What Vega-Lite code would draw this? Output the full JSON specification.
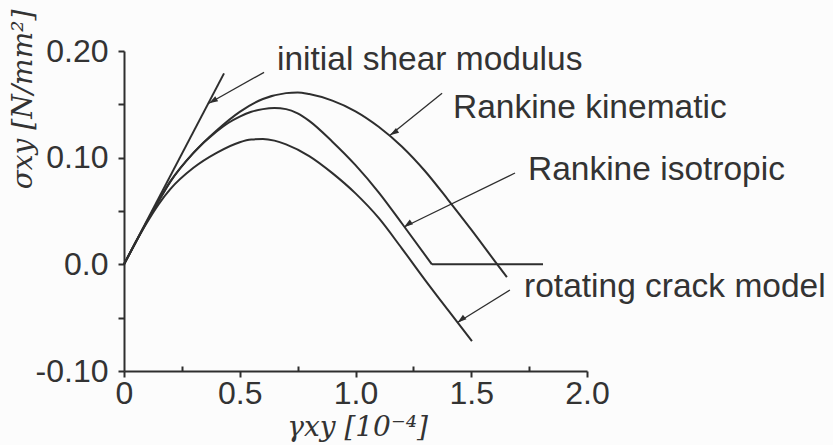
{
  "$schema": "https://vega.github.io/schema/vega-lite/v6.json",
  "width": 463,
  "height": 320,
  "autosize": "none",
  "padding": {"left": 124, "top": 51, "right": 246, "bottom": 74},
  "background": "#fcfcfc",
  "config": {
    "view": {"stroke": null},
    "axis": {
      "grid": false,
      "domainColor": "#2e2e2e",
      "domainWidth": 2,
      "tickColor": "#2e2e2e",
      "tickWidth": 2,
      "tickSize": 6,
      "labelFont": "Liberation Sans",
      "labelFontSize": 32,
      "labelColor": "#333333",
      "titleFont": "DejaVu Serif",
      "titleFontStyle": "italic",
      "titleFontWeight": "normal",
      "titleFontSize": 28,
      "titleColor": "#333333"
    }
  },
  "datasets": {
    "curves": [
      {"curve": "initial shear modulus", "part": "a", "x": 0, "y": 0},
      {"curve": "initial shear modulus", "part": "a", "x": 0.432, "y": 0.179},
      {"curve": "Rankine kinematic", "part": "a", "x": 0, "y": 0},
      {"curve": "Rankine kinematic", "part": "a", "x": 0.05, "y": 0.0205},
      {"curve": "Rankine kinematic", "part": "a", "x": 0.1, "y": 0.0405},
      {"curve": "Rankine kinematic", "part": "a", "x": 0.15, "y": 0.0595},
      {"curve": "Rankine kinematic", "part": "a", "x": 0.2, "y": 0.0775},
      {"curve": "Rankine kinematic", "part": "a", "x": 0.3, "y": 0.1045},
      {"curve": "Rankine kinematic", "part": "a", "x": 0.4, "y": 0.1255},
      {"curve": "Rankine kinematic", "part": "a", "x": 0.5, "y": 0.143},
      {"curve": "Rankine kinematic", "part": "a", "x": 0.6, "y": 0.155},
      {"curve": "Rankine kinematic", "part": "a", "x": 0.7, "y": 0.1605},
      {"curve": "Rankine kinematic", "part": "a", "x": 0.75, "y": 0.1612},
      {"curve": "Rankine kinematic", "part": "a", "x": 0.8, "y": 0.1597},
      {"curve": "Rankine kinematic", "part": "a", "x": 0.9, "y": 0.1535},
      {"curve": "Rankine kinematic", "part": "a", "x": 1.0, "y": 0.1435},
      {"curve": "Rankine kinematic", "part": "a", "x": 1.1, "y": 0.129},
      {"curve": "Rankine kinematic", "part": "a", "x": 1.2, "y": 0.1105},
      {"curve": "Rankine kinematic", "part": "a", "x": 1.3, "y": 0.0875},
      {"curve": "Rankine kinematic", "part": "a", "x": 1.4, "y": 0.0605},
      {"curve": "Rankine kinematic", "part": "a", "x": 1.5, "y": 0.0325},
      {"curve": "Rankine kinematic", "part": "a", "x": 1.6, "y": 0.0035},
      {"curve": "Rankine kinematic", "part": "a", "x": 1.654, "y": -0.012},
      {"curve": "Rankine isotropic", "part": "a", "x": 0, "y": 0},
      {"curve": "Rankine isotropic", "part": "a", "x": 0.05, "y": 0.0205},
      {"curve": "Rankine isotropic", "part": "a", "x": 0.1, "y": 0.0405},
      {"curve": "Rankine isotropic", "part": "a", "x": 0.15, "y": 0.0595},
      {"curve": "Rankine isotropic", "part": "a", "x": 0.2, "y": 0.0775},
      {"curve": "Rankine isotropic", "part": "a", "x": 0.3, "y": 0.1045},
      {"curve": "Rankine isotropic", "part": "a", "x": 0.4, "y": 0.1245},
      {"curve": "Rankine isotropic", "part": "a", "x": 0.45, "y": 0.1325},
      {"curve": "Rankine isotropic", "part": "a", "x": 0.5, "y": 0.1385},
      {"curve": "Rankine isotropic", "part": "a", "x": 0.55, "y": 0.143},
      {"curve": "Rankine isotropic", "part": "a", "x": 0.6, "y": 0.1455},
      {"curve": "Rankine isotropic", "part": "a", "x": 0.65, "y": 0.1465},
      {"curve": "Rankine isotropic", "part": "a", "x": 0.7, "y": 0.1455},
      {"curve": "Rankine isotropic", "part": "a", "x": 0.75, "y": 0.1415},
      {"curve": "Rankine isotropic", "part": "a", "x": 0.8, "y": 0.1345},
      {"curve": "Rankine isotropic", "part": "a", "x": 0.9, "y": 0.115},
      {"curve": "Rankine isotropic", "part": "a", "x": 1.0, "y": 0.093},
      {"curve": "Rankine isotropic", "part": "a", "x": 1.1, "y": 0.0675},
      {"curve": "Rankine isotropic", "part": "a", "x": 1.2, "y": 0.0385},
      {"curve": "Rankine isotropic", "part": "a", "x": 1.33, "y": 0.0},
      {"curve": "Rankine isotropic", "part": "b", "x": 1.33, "y": 0.0},
      {"curve": "Rankine isotropic", "part": "b", "x": 1.81, "y": 0.0},
      {"curve": "rotating crack model", "part": "a", "x": 0, "y": 0},
      {"curve": "rotating crack model", "part": "a", "x": 0.05, "y": 0.0205},
      {"curve": "rotating crack model", "part": "a", "x": 0.1, "y": 0.0395},
      {"curve": "rotating crack model", "part": "a", "x": 0.15, "y": 0.0565},
      {"curve": "rotating crack model", "part": "a", "x": 0.2, "y": 0.0705},
      {"curve": "rotating crack model", "part": "a", "x": 0.3, "y": 0.0905},
      {"curve": "rotating crack model", "part": "a", "x": 0.4, "y": 0.1045},
      {"curve": "rotating crack model", "part": "a", "x": 0.5, "y": 0.1145},
      {"curve": "rotating crack model", "part": "a", "x": 0.55, "y": 0.117},
      {"curve": "rotating crack model", "part": "a", "x": 0.6, "y": 0.1175},
      {"curve": "rotating crack model", "part": "a", "x": 0.65, "y": 0.116},
      {"curve": "rotating crack model", "part": "a", "x": 0.7, "y": 0.1125},
      {"curve": "rotating crack model", "part": "a", "x": 0.8, "y": 0.1015},
      {"curve": "rotating crack model", "part": "a", "x": 0.9, "y": 0.0855},
      {"curve": "rotating crack model", "part": "a", "x": 1.0, "y": 0.0665},
      {"curve": "rotating crack model", "part": "a", "x": 1.1, "y": 0.0435},
      {"curve": "rotating crack model", "part": "a", "x": 1.2, "y": 0.015},
      {"curve": "rotating crack model", "part": "a", "x": 1.3, "y": -0.0145},
      {"curve": "rotating crack model", "part": "a", "x": 1.4, "y": -0.043},
      {"curve": "rotating crack model", "part": "a", "x": 1.503, "y": -0.072}
    ],
    "notes": [
      {"label": "initial shear modulus", "tailX": 0.605, "tailY": 0.180, "headX": 0.367, "headY": 0.151, "textX": 0.661, "textY": 0.182},
      {"label": "Rankine kinematic", "tailX": 1.374, "tailY": 0.1605, "headX": 1.149, "headY": 0.121, "textX": 1.421, "textY": 0.137},
      {"label": "Rankine isotropic", "tailX": 1.689, "tailY": 0.0856, "headX": 1.21, "headY": 0.035, "textX": 1.745, "textY": 0.079},
      {"label": "rotating crack model", "tailX": 1.667, "tailY": -0.024, "headX": 1.441, "headY": -0.0545, "textX": 1.728, "textY": -0.0306}
    ]
  },
  "layer": [
    {
      "data": {"name": "curves"},
      "mark": {"type": "line", "color": "#2e2e2e", "strokeWidth": 2, "interpolate": "monotone", "clip": false},
      "encoding": {
        "x": {
          "field": "x", "type": "quantitative",
          "scale": {"domain": [0, 2.0], "nice": false, "zero": false},
          "axis": {
            "values": [0, 0.25, 0.5, 0.75, 1.0, 1.25, 1.5, 1.75, 2.0],
            "labelExpr": "datum.value == 0 ? '0' : (round(datum.value * 100) % 50 != 0 ? '' : format(datum.value, '.1f'))",
            "tickSize": {"condition": {"test": "round(datum.value * 100) % 50 != 0", "value": -5}, "value": 6},
            "labelPadding": 1,
            "labelFlush": false,
            "title": "γxy [10⁻⁴]",
            "titleX": 233,
            "titleY": 56,
            "titleAlign": "center",
            "titleBaseline": "middle"
          }
        },
        "y": {
          "field": "y", "type": "quantitative",
          "scale": {"domain": [-0.1, 0.2], "nice": false, "zero": false},
          "axis": {
            "values": [-0.1, -0.05, 0, 0.05, 0.1, 0.15, 0.2],
            "labelExpr": "abs(round(datum.value * 100)) % 10 != 0 ? '' : (datum.value == 0 ? '0.0' : (datum.value < 0 ? '-0.10' : format(datum.value, '.2f')))",
            "labelPadding": 10,
            "labelFlush": false,
            "title": "σxy [N/mm²]",
            "titleAngle": 270,
            "titleX": -101,
            "titleY": 48,
            "titleAlign": "center",
            "titleBaseline": "middle"
          }
        },
        "detail": [{"field": "curve", "type": "nominal"}, {"field": "part", "type": "nominal"}]
      }
    },
    {
      "data": {"name": "notes"},
      "mark": {"type": "rule", "color": "#2e2e2e", "strokeWidth": 1.3, "clip": false},
      "encoding": {
        "x": {"field": "tailX", "type": "quantitative"},
        "y": {"field": "tailY", "type": "quantitative"},
        "x2": {"field": "headX"},
        "y2": {"field": "headY"}
      }
    },
    {
      "data": {"name": "notes"},
      "mark": {"type": "point", "shape": "M0,0L0.32,1L-0.32,1Z", "filled": true, "color": "#2e2e2e", "opacity": 1, "size": 320, "clip": false},
      "encoding": {
        "x": {"field": "headX", "type": "quantitative"},
        "y": {"field": "headY", "type": "quantitative"},
        "angle": {
          "field": "label", "type": "nominal",
          "scale": {"domain": ["initial shear modulus", "Rankine kinematic", "Rankine isotropic", "rotating crack model"], "range": [239.8, 232.4, 244.9, 243.6]},
          "legend": null
        }
      }
    },
    {
      "data": {"name": "notes"},
      "mark": {"type": "text", "align": "left", "baseline": "alphabetic", "font": "Liberation Sans", "fontSize": 33.5, "color": "#333333", "clip": false},
      "encoding": {
        "x": {"field": "textX", "type": "quantitative"},
        "y": {"field": "textY", "type": "quantitative"},
        "text": {"field": "label", "type": "nominal"}
      }
    }
  ]
}
